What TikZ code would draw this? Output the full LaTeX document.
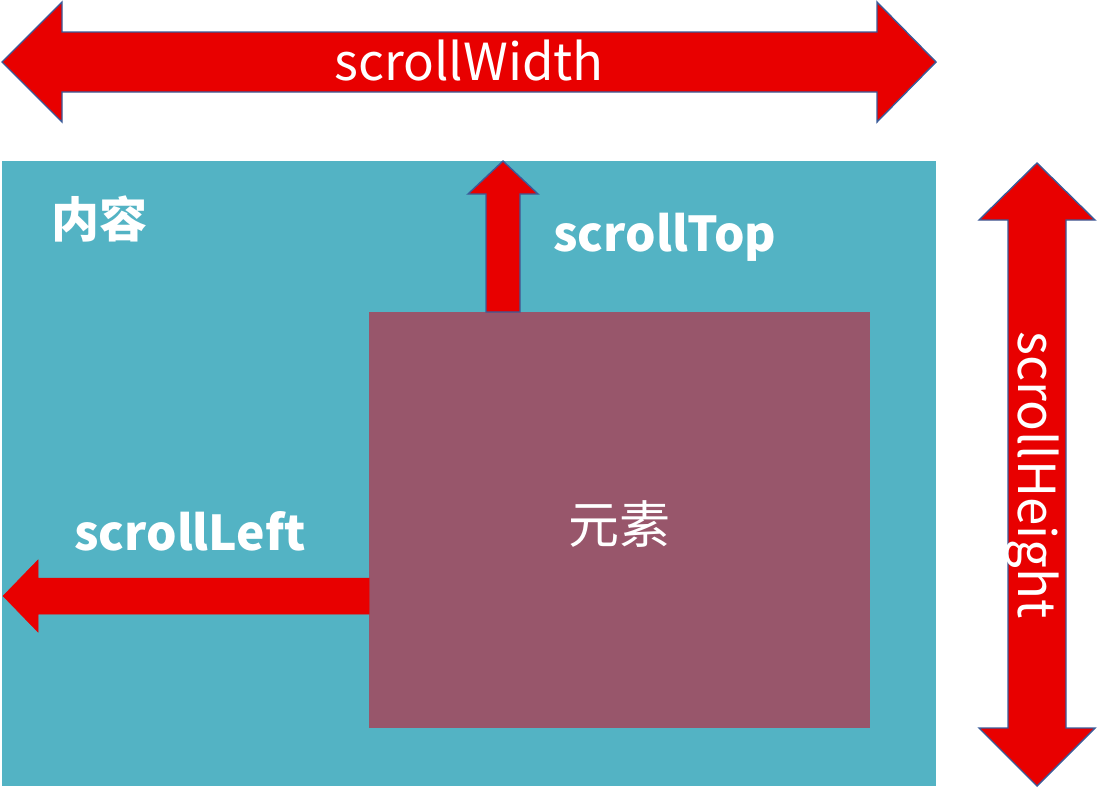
\documentclass[tikz,border=0pt]{standalone}
\usepackage{fontspec}
\setmainfont{Noto Sans CJK SC}
\definecolor{arrowred}{HTML}{E80000}
\definecolor{arrowedge}{HTML}{3A5C9A}
\definecolor{contentteal}{HTML}{53B3C4}
\definecolor{elementplum}{HTML}{98566B}
\begin{document}
\begin{tikzpicture}[x=1pt,y=-1pt,
  blockarrow/.style={fill=arrowred,draw=arrowedge,line width=1.4pt,line join=miter},
  plainarrow/.style={fill=arrowred,draw=arrowred,line width=0.5pt},
  lbl/.style={text=white,inner sep=0pt,font=\fontsize{51}{60}\selectfont},
  boldlbl/.style={text=white,inner sep=0pt,font=\fontsize{48}{56}\selectfont\bfseries}]
\useasboundingbox (0,0) rectangle (1097,788);
% content area
\fill[contentteal] (2,161) rectangle (936,786);
% element
\fill[elementplum] (369,312) rectangle (870,728);
% scrollWidth double arrow
\draw[blockarrow] (2,62) -- (62,2) -- (62,32) -- (877,32) -- (877,2) -- (936,62)
  -- (877,122) -- (877,92) -- (62,92) -- (62,122) -- cycle;
% scrollHeight double arrow
\draw[blockarrow] (1037,163) -- (1095,220) -- (1066,220) -- (1066,728) -- (1095,728)
  -- (1037,786) -- (979,728) -- (1008,728) -- (1008,220) -- (979,220) -- cycle;
% scrollTop arrow
\draw[blockarrow] (503,161) -- (538,194) -- (520,194) -- (520,312) -- (486,312)
  -- (486,194) -- (468,194) -- cycle;
% scrollLeft arrow
\draw[plainarrow] (3,596) -- (38,560) -- (38,578) -- (369,578) -- (369,614)
  -- (38,614) -- (38,632) -- cycle;
% labels
\node[lbl] (sw) at (469,61) {scrollWidth};
\node[boldlbl] (content) at (99,219) {内容};
\node[boldlbl] (st) at (665,237) {scrollTop};
\node[boldlbl] (sl) at (190,531) {scrollLeft};
\node[lbl] (el) at (619,524) {元素};
\node[lbl,rotate=-90] (sh) at (1032,475) {scrollHeight};
\end{tikzpicture}
\end{document}
